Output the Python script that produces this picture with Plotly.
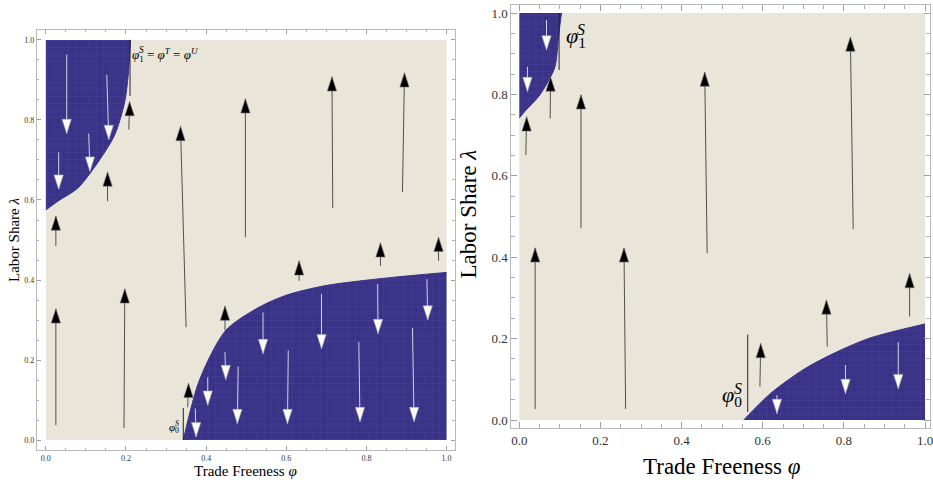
import plotly.graph_objects as go

W, H = 933, 484

# ---------------- data ----------------
# Left panel: regime boundaries
L_top_phi = [0.0, 0.03, 0.08, 0.134, 0.172, 0.197, 0.207, 0.211]
L_top_lam = [0.575, 0.597, 0.63, 0.70, 0.763, 0.846, 0.929, 1.0]
L_bot_phi = [0.343, 0.383, 0.449, 0.532, 0.60, 0.698, 0.85, 1.0]
L_bot_lam = [0.0, 0.149, 0.274, 0.332, 0.362, 0.386, 0.405, 0.419]

# Left panel: upward (black) arrows  tail -> head
L_up_phi0 = [0.025, 0.195, 0.350, 0.498, 0.716, 0.890, 0.025, 0.154, 0.207, 0.447, 0.632, 0.835, 0.980, 0.354]
L_up_lam0 = [0.037, 0.030, 0.282, 0.507, 0.580, 0.620, 0.485, 0.597, 0.776, 0.274, 0.398, 0.435, 0.448, 0.082]
L_up_phi1 = [0.025, 0.197, 0.336, 0.498, 0.714, 0.895, 0.025, 0.154, 0.209, 0.447, 0.632, 0.835, 0.980, 0.356]
L_up_lam1 = [0.328, 0.378, 0.784, 0.853, 0.908, 0.918, 0.560, 0.670, 0.846, 0.335, 0.448, 0.493, 0.507, 0.142]

# Left panel: downward (white) arrows  tail -> head
L_dn_phi0 = [0.052, 0.152, 0.107, 0.032, 0.542, 0.688, 0.828, 0.951, 0.447, 0.404, 0.480, 0.605, 0.781, 0.915, 0.373]
L_dn_lam0 = [0.963, 0.913, 0.766, 0.719, 0.319, 0.365, 0.390, 0.402, 0.220, 0.157, 0.184, 0.224, 0.245, 0.280, 0.079]
L_dn_phi1 = [0.052, 0.157, 0.110, 0.032, 0.542, 0.688, 0.829, 0.953, 0.449, 0.404, 0.478, 0.603, 0.784, 0.919, 0.375]
L_dn_lam1 = [0.766, 0.751, 0.672, 0.627, 0.216, 0.228, 0.266, 0.300, 0.151, 0.087, 0.041, 0.041, 0.046, 0.046, 0.008]

# Left panel: threshold markers
L_phi1S, L_phi1S_lam = 0.210, [0.86, 1.0]
L_phi0S, L_phi0S_lam = 0.343, [0.0, 0.08]

# Right panel: regime boundaries
R_top_phi = [0.0, 0.017, 0.047, 0.07, 0.088, 0.0975, 0.104]
R_top_lam = [0.742, 0.762, 0.794, 0.83, 0.868, 0.95, 1.0]
R_bot_phi = [0.553, 0.62, 0.702, 0.784, 0.866, 1.0]
R_bot_lam = [0.0, 0.066, 0.125, 0.168, 0.202, 0.236]

# Right panel: upward (black) arrows
R_up_phi0 = [0.039, 0.262, 0.152, 0.463, 0.823, 0.016, 0.076, 0.593, 0.759, 0.962]
R_up_lam0 = [0.027, 0.027, 0.471, 0.410, 0.469, 0.651, 0.741, 0.082, 0.180, 0.254]
R_up_phi1 = [0.039, 0.258, 0.152, 0.457, 0.816, 0.018, 0.077, 0.595, 0.757, 0.962]
R_up_lam1 = [0.423, 0.423, 0.799, 0.855, 0.941, 0.745, 0.843, 0.188, 0.295, 0.360]

# Right panel: downward (white) arrows
R_dn_phi0 = [0.067, 0.020, 0.635, 0.804, 0.934]
R_dn_lam0 = [0.983, 0.868, 0.061, 0.135, 0.192]
R_dn_phi1 = [0.067, 0.020, 0.635, 0.804, 0.934]
R_dn_lam1 = [0.909, 0.807, 0.016, 0.065, 0.077]

R_phi1S, R_phi1S_lam = 0.098, [0.86, 1.0]
R_phi0S, R_phi0S_lam = 0.563, [0.02, 0.21]

tick_vals = [0.0, 0.2, 0.4, 0.6, 0.8, 1.0]
tick_text = ["0.0", "0.2", "0.4", "0.6", "0.8", "1.0"]

# ---------------- styling ----------------
BEIGE = "#EAE5D9"
BLUE = "#3A3287"
MESH = "#5853A8"
SERIF = "Liberation Serif, Times New Roman, serif"

fig = go.Figure()

PAT = dict(shape="+", fgcolor=MESH, bgcolor=BLUE, size=7, solidity=0.12)


def region_top(xs, ys, xa, ya):
    # invisible upper edge (lambda = 1) then boundary filled to it
    fig.add_trace(go.Scatter(
        x=[xs[0], xs[-1]], y=[ys[-1], ys[-1]], mode="lines",
        line=dict(color="rgba(0,0,0,0)", width=0),
        xaxis=xa, yaxis=ya, hoverinfo="skip", showlegend=False))
    fig.add_trace(go.Scatter(
        x=xs, y=ys, mode="lines", fill="tonexty",
        line=dict(color=BLUE, width=1, shape="spline", smoothing=0.8), fillcolor=BLUE,
        fillpattern=PAT, xaxis=xa, yaxis=ya, hoverinfo="skip", showlegend=False))


def region_bottom(xs, ys, xa, ya):
    fig.add_trace(go.Scatter(
        x=xs, y=ys, mode="lines", fill="tozeroy",
        line=dict(color=BLUE, width=1, shape="spline", smoothing=0.8), fillcolor=BLUE,
        fillpattern=PAT, xaxis=xa, yaxis=ya, hoverinfo="skip", showlegend=False))


def arrows(p0, l0, p1, l1, xa, ya, up, hsize):
    xs, ys = [], []
    for a, b, c, d in zip(p0, l0, p1, l1):
        xs += [a, c, None]
        ys += [b, d, None]
    fig.add_trace(go.Scatter(
        x=xs, y=ys, mode="lines",
        line=dict(color="#505050" if up else "#D4D2E6", width=1),
        xaxis=xa, yaxis=ya, hoverinfo="skip", showlegend=False))
    fig.add_trace(go.Scatter(
        x=p1, y=l1, mode="markers",
        marker=dict(symbol="arrow", size=hsize, angle=0 if up else 180,
                    color="#000000" if up else "#FCFCF0",
                    line=dict(color="#777777" if up else "#A8A8B8", width=0.6)),
        xaxis=xa, yaxis=ya, hoverinfo="skip", showlegend=False))


def vline(phi, lams, xa, ya):
    fig.add_trace(go.Scatter(
        x=[phi, phi], y=lams, mode="lines", line=dict(color="#222222", width=1),
        xaxis=xa, yaxis=ya, hoverinfo="skip", showlegend=False))


# beige backgrounds (the unit square of each panel)
for xr, yr in (("x", "y"), ("x2", "y2")):
    fig.add_shape(type="rect", xref=xr, yref=yr, x0=tick_vals[0], x1=tick_vals[-1],
                  y0=tick_vals[0], y1=tick_vals[-1], fillcolor=BEIGE,
                  line=dict(width=0), layer="below")

# left panel
region_top(L_top_phi, L_top_lam, "x", "y")
region_bottom(L_bot_phi, L_bot_lam, "x", "y")
vline(L_phi1S, L_phi1S_lam, "x", "y")
vline(L_phi0S, L_phi0S_lam, "x", "y")
arrows(L_dn_phi0, L_dn_lam0, L_dn_phi1, L_dn_lam1, "x", "y", False, 15)
arrows(L_up_phi0, L_up_lam0, L_up_phi1, L_up_lam1, "x", "y", True, 15)

# right panel
region_top(R_top_phi, R_top_lam, "x2", "y2")
region_bottom(R_bot_phi, R_bot_lam, "x2", "y2")
vline(R_phi1S, R_phi1S_lam, "x2", "y2")
vline(R_phi0S, R_phi0S_lam, "x2", "y2")
arrows(R_dn_phi0, R_dn_lam0, R_dn_phi1, R_dn_lam1, "x2", "y2", False, 15)
arrows(R_up_phi0, R_up_lam0, R_up_phi1, R_up_lam1, "x2", "y2", True, 15)


def px_x(p):
    return p / W


def px_y(p):
    return 1 - p / H


def axis(domain, rng, fsize, anchor, tlen):
    return dict(domain=domain, range=rng, anchor=anchor, showgrid=False, zeroline=False,
                showline=True, linecolor="#B8B8B8", linewidth=1, mirror="allticks",
                ticks="inside", ticklen=tlen, tickwidth=1, tickcolor="#A0A0A0",
                tickvals=tick_vals, ticktext=tick_text, ticklabeloverflow="allow",
                tickfont=dict(family=SERIF, size=fsize, color="#333333"),
                minor=dict(ticks="inside", dtick=0.05, tick0=0, ticklen=tlen * 0.6,
                           tickcolor="#B0B0B0", showgrid=False),
                fixedrange=True)


layout = dict(
    width=W, height=H, margin=dict(l=0, r=0, t=0, b=0),
    paper_bgcolor="white", plot_bgcolor="white", showlegend=False,
    xaxis=axis([px_x(37), px_x(456)], [-9 / 402, 1 + 8 / 402], 8, "y", 4),
    yaxis=axis([px_y(450), px_y(30)], [-10 / 402, 1 + 10 / 402], 8, "x", 4),
    xaxis2=axis([px_x(513), 1.0], [-8 / 407, (933 - 521) / 407], 13, "y2", 6),
    yaxis2=axis([px_y(428), px_y(5)], [-8 / 407, 1 + 8 / 407], 13, "x2", 6),
    font=dict(family=SERIF, color="black"),
)
fig.update_layout(**layout)


def stacked_label(xr, yr, x, y, size, sub, rest="", anchor="left"):
    """phi with a stacked superscript S over subscript `sub`."""
    out = [dict(text="<i>φ</i><sub>" + sub + "</sub>" + rest, x=x, y=y, xref=xr, yref=yr,
                showarrow=False, font=dict(size=size), xanchor=anchor, yanchor="middle")]
    if anchor == "left":
        sx, sa = 0.52 * size, "left"
    else:
        sx, sa = 0.0, "right"
    out.append(dict(text="<i>S</i>", x=x, y=y, xref=xr, yref=yr, showarrow=False,
                    font=dict(size=0.72 * size), xanchor=sa, yanchor="middle",
                    xshift=sx, yshift=0.38 * size))
    return out


ann = [
    # axis titles
    dict(text="Trade Freeness <i>φ</i>", x=px_x(246), y=px_y(471), xref="paper", yref="paper",
         showarrow=False, font=dict(size=15), xanchor="center", yanchor="middle"),
    dict(text="Labor Share <i>λ</i>", x=px_x(14), y=px_y(240), xref="paper", yref="paper",
         showarrow=False, font=dict(size=15), textangle=-90, xanchor="center", yanchor="middle"),
    dict(text="Trade Freeness <i>φ</i>", x=px_x(724), y=px_y(466), xref="paper", yref="paper",
         showarrow=False, font=dict(size=23), xanchor="center", yanchor="middle"),
    dict(text="Labor Share <i>λ</i>", x=px_x(470), y=px_y(214), xref="paper", yref="paper",
         showarrow=False, font=dict(size=23), textangle=-90, xanchor="center", yanchor="middle"),
]
ann += stacked_label("x", "y", L_phi1S, 0.962, 13, "1",
                     " = <i>φ</i><sup><i>T</i></sup> = <i>φ</i><sup><i>U</i></sup>")
ann += stacked_label("x", "y", 0.338, 0.030, 11, "0", anchor="right")
ann += stacked_label("x2", "y2", 0.11, 0.94, 22, "1")
ann += stacked_label("x2", "y2", 0.553, 0.058, 22, "0", anchor="right")
fig.update_layout(annotations=ann)

fig.write_html("out.html", post_script="document.body.style.margin='0';",
               config={"displayModeBar": False})
